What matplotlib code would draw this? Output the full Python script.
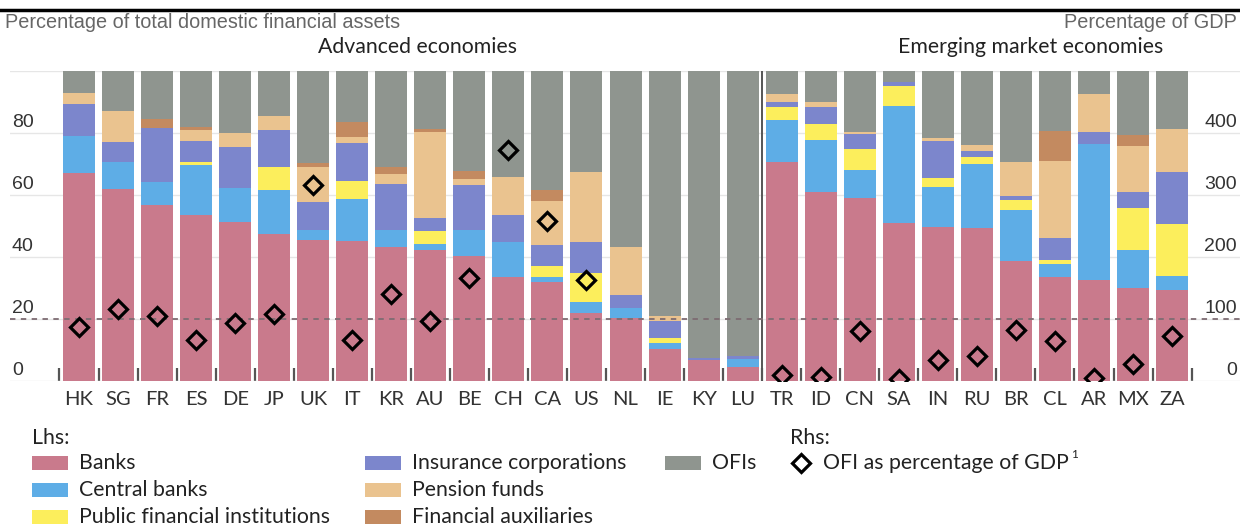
import numpy as np
import matplotlib
matplotlib.use("Agg")
import matplotlib.pyplot as plt
from matplotlib.patches import Rectangle
from matplotlib.transforms import blended_transform_factory, offset_copy

# ---------------------------------------------------------------- data
countries = ["HK", "SG", "FR", "ES", "DE", "JP", "UK", "IT", "KR", "AU", "BE", "CH", "CA", "US",
             "NL", "IE", "KY", "LU",
             "TR", "ID", "CN", "SA", "IN", "RU", "BR", "CL", "AR", "MX", "ZA"]

# shares of total domestic financial assets, %
banks   = [67.1, 62.1, 56.9, 53.7, 51.3, 47.4, 45.6, 45.3, 43.2, 42.3, 40.5, 33.7, 32.1, 21.9,
           20.3, 10.3, 6.8, 4.6,
           70.9, 61.2, 59.1, 51.2, 49.9, 49.4, 38.8, 33.5, 32.7, 30.2, 29.4]
central = [11.9, 8.8, 7.5, 16.1, 11.0, 14.3, 3.2, 13.5, 5.6, 2.0, 8.3, 11.3, 1.6, 3.7,
           3.2, 1.9, 0.0, 2.5,
           13.5, 16.7, 9.1, 37.7, 12.9, 20.8, 16.3, 4.3, 43.9, 12.1, 4.5]
public  = [0.3, 0.0, 0.0, 0.9, 0.0, 7.6, 0.0, 5.9, 0.0, 4.3, 0.0, 0.0, 3.5, 9.2,
           0.0, 1.6, 0.0, 0.0,
           4.0, 5.1, 6.7, 6.3, 2.7, 2.3, 3.4, 1.3, 0.0, 13.5, 16.9]
insur   = [10.1, 6.3, 17.3, 6.9, 13.2, 11.8, 8.9, 12.3, 14.9, 4.0, 14.6, 8.7, 6.6, 10.2,
           4.3, 5.6, 0.5, 1.0,
           1.9, 5.4, 4.9, 1.4, 11.9, 1.9, 1.3, 7.2, 4.0, 5.4, 16.7]
pension = [3.6, 9.9, 0.0, 3.5, 4.6, 4.4, 11.6, 1.7, 3.1, 28.0, 1.8, 12.1, 14.2, 22.5,
           15.6, 1.7, 0.0, 0.0,
           2.4, 1.7, 0.6, 0.0, 1.0, 1.9, 10.8, 24.8, 12.1, 14.6, 14.0]
aux     = [0.0, 0.0, 2.9, 1.1, 0.0, 0.0, 1.1, 4.9, 2.5, 0.8, 2.5, 0.0, 3.7, 0.0,
           0.0, 0.0, 0.0, 0.0,
           0.0, 0.0, 0.0, 0.0, 0.0, 0.0, 0.0, 9.8, 0.0, 3.7, 0.0]
ofis    = [7.0, 12.9, 15.4, 17.8, 19.9, 14.5, 29.6, 16.4, 30.7, 18.6, 32.3, 34.2, 38.3, 32.5,
           56.6, 78.9, 92.7, 91.9,
           7.3, 9.9, 19.6, 3.4, 21.6, 23.7, 29.4, 19.1, 7.3, 20.5, 18.5]

# OFI assets as percentage of GDP (rhs)
ofi_gdp = [87, 117, 105, 66, 93, 108, 316, 66, 140, 97, 166, 373, 259, 163,
           np.nan, np.nan, np.nan, np.nan,
           10, 7, 81, 4, 34, 41, 82, 65, 5, 27, 72]

seg_labels = ["Banks", "Central banks", "Public financial institutions",
              "Insurance corporations", "Pension funds", "Financial auxiliaries", "OFIs"]
seg_values = [banks, central, public, insur, pension, aux, ofis]
seg_colors = ["#c97a8c", "#5eade6", "#fcee5c", "#7c86cc", "#eac38f", "#c38a60", "#8f958f"]

W, H = 1240, 526
fig = plt.figure(figsize=(W / 100, H / 100), dpi=100)
ax = fig.add_axes([10 / W, (H - 381) / H, 1230 / W, (381 - 71.5) / H])

x = np.arange(len(countries))
bottom = np.zeros(len(countries))
for vals, col in zip(seg_values, seg_colors):
    ax.bar(x, vals, bottom=bottom, width=0.82, color=col, linewidth=0, zorder=1)
    bottom += np.array(vals)

ax.set_xlim(-1.767, 29.74)
ax.set_ylim(0, 100)
ax.set_axisbelow(True)
for s in ax.spines.values():
    s.set_visible(False)
ax.set_yticks([0, 20, 40, 60, 80, 100])
ax.yaxis.grid(True, color="#e6e6e6", lw=1)
ax.tick_params(axis="y", length=0, labelleft=False)

ax.set_xticks(x)
ax.set_xticklabels(countries, family="Lato", fontsize=14.5, color="#333333")
ax.set_xticks(np.arange(-0.5, len(countries)), minor=True)
ax.tick_params(axis="x", which="major", length=0, pad=7)
ax.tick_params(axis="x", which="minor", direction="in", length=9.5, width=1.6, color="#555555")

ax.axvline(17.5, color="#555555", lw=1.4, zorder=0.6)
ax.axhline(20, color="#7d6c72", lw=1.3, ls=(0, (3, 3)), zorder=3)

ax2 = ax.twinx()
ax2.set_ylim(0, 500)
for s in ax2.spines.values():
    s.set_visible(False)
ax2.tick_params(axis="y", length=0, labelright=False)
ax2.plot(x, ofi_gdp, ls="none", marker="D", ms=9.5, mfc="none", mec="black", mew=2.3, zorder=4)

# axis numbers sit just above their gridlines
tl = offset_copy(blended_transform_factory(ax.transAxes, ax.transData), fig, y=6, units="dots")
for v in [0, 20, 40, 60, 80]:
    ax.text(0.0016, v, str(v), transform=tl, ha="left", va="baseline",
            family="Liberation Sans", fontsize=14, color="#333333")
tr = offset_copy(blended_transform_factory(ax2.transAxes, ax2.transData), fig, y=6, units="dots")
for v in [0, 100, 200, 300, 400]:
    ax2.text(0.9976, v, str(v), transform=tr, ha="right", va="baseline",
             family="Liberation Sans", fontsize=14, color="#333333")

# ---------------------------------------------------------------- headers and legend
ov = fig.add_axes([0, 0, 1, 1], zorder=5)
ov.set_xlim(0, W)
ov.set_ylim(H, 0)
ov.axis("off")

ov.plot([0, W], [10, 10], color="black", lw=2.5)
ov.text(5, 22, "Percentage of total domestic financial assets", ha="left", va="center",
        family="Liberation Sans", fontsize=14.3, color="#666666")
ov.text(1237, 22, "Percentage of GDP", ha="right", va="center",
        family="Liberation Sans", fontsize=14.3, color="#666666")
ov.text(418, 47, "Advanced economies", ha="center", va="center",
        family="Lato", fontsize=15.3, color="#222222")
ov.text(1031, 47, "Emerging market economies", ha="center", va="center",
        family="Lato", fontsize=15.3, color="#222222")

leg_font = dict(family="Lato", fontsize=15.3, color="#222222", va="center", ha="left")
ov.text(32, 438, "Lhs:", **leg_font)
ov.text(790, 438, "Rhs:", **leg_font)
slots = [(32, 463), (32, 490), (32, 517), (365, 463), (365, 490), (365, 517), (665, 463)]
for (lx, ly), lab, col in zip(slots, seg_labels, seg_colors):
    ov.add_patch(Rectangle((lx, ly - 7), 36, 14, color=col, lw=0))
    ov.text(lx + 47, ly, lab, **leg_font)
ov.plot([801], [463], ls="none", marker="D", ms=9.5, mfc="none", mec="black", mew=2.3)
ov.text(823, 463, "OFI as percentage of GDP", **leg_font)
ov.text(1071, 455, "1", family="Lato", fontsize=8.5, color="#222222", va="center", ha="left")

fig.savefig("out.png", dpi=100)
